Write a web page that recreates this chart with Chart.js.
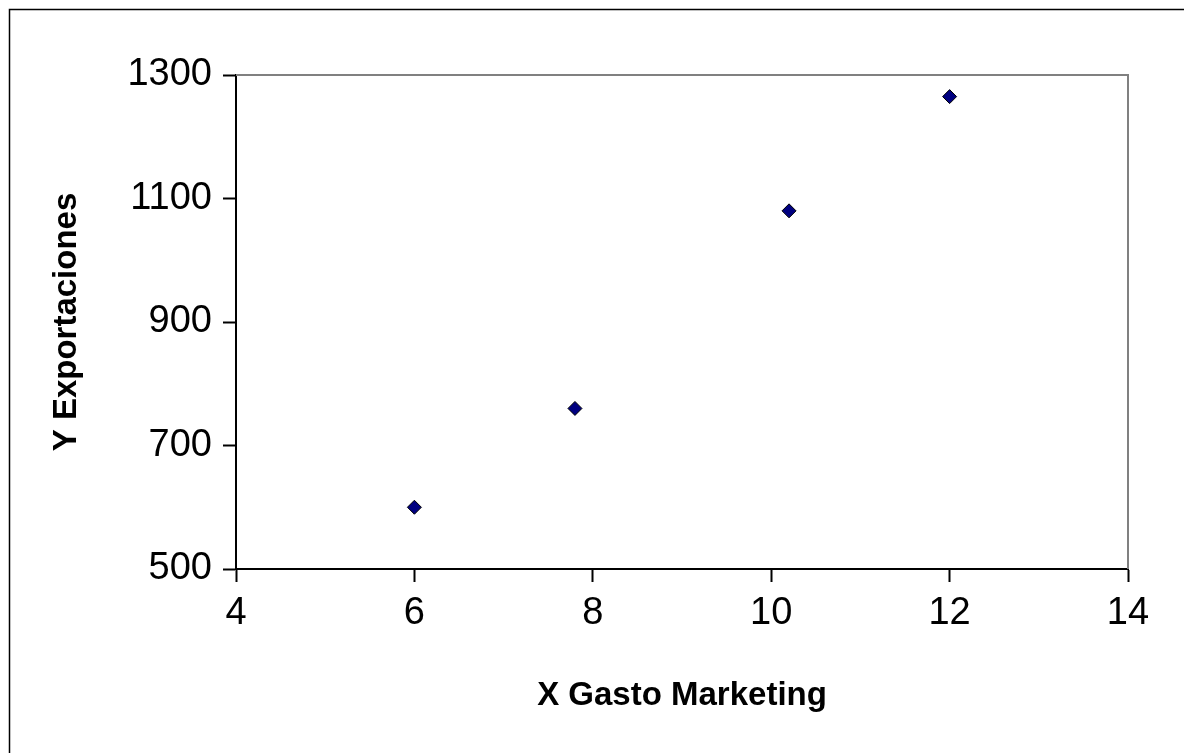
<!DOCTYPE html>
<html>
<head>
<meta charset="utf-8">
<script src="https://cdn.jsdelivr.net/npm/chart.js@4"></script>
<style>
  html, body { margin: 0; padding: 0; background: #fff; }
  #wrap { width: 1184px; height: 753px; position: relative; }
</style>
</head>
<body>
<div id="wrap"><canvas id="scatterChart" width="1184" height="753"></canvas></div>
<script>
// values
const gastoMarketing = [6, 7.8, 10.2, 12];
const exportaciones = [600, 760, 1080, 1265];
const xTicks = [4, 6, 8, 10, 12, 14];
const yTicks = [500, 700, 900, 1100, 1300];

const points = gastoMarketing.map((x, i) => ({ x: x, y: exportaciones[i] }));

// outer frame + grey top/right edge of plot area
const framePlugin = {
    id: 'frame',
    beforeDraw(chart) {
        const ctx = chart.ctx;
        ctx.save();
        ctx.fillStyle = '#fff';
        ctx.fillRect(0, 0, chart.width, chart.height);
        ctx.strokeStyle = '#000';
        ctx.lineWidth = 1.5;
        ctx.strokeRect(9.5, 9.5, chart.width + 20, chart.height + 20);
        ctx.restore();
    },
    afterDatasetsDraw(chart) {
        const { ctx, chartArea: a } = chart;
        ctx.save();
        ctx.strokeStyle = '#808080';
        ctx.lineWidth = 2;
        ctx.beginPath();
        ctx.moveTo(a.left, a.top);
        ctx.lineTo(a.right, a.top);
        ctx.lineTo(a.right, a.bottom);
        ctx.stroke();
        ctx.restore();
    }
};

function drawChart() {
    const ctx = document.getElementById('scatterChart').getContext('2d');
    Chart.defaults.font.family = "'Liberation Sans', Arial, sans-serif";
    Chart.defaults.color = '#000';

    window.myChart = new Chart(ctx, {
        type: 'scatter',
        data: {
            datasets: [{
                label: 'Exportaciones',
                data: points,
                pointStyle: 'rectRot',
                pointRadius: 7,
                pointHoverRadius: 7,
                backgroundColor: '#000080',
                borderColor: '#000',
                borderWidth: 1
            }]
        },
        options: {
            responsive: false,
            animation: false,
            events: [],
            layout: { padding: { top: 75, right: 56, left: 0, bottom: 0 } },
            plugins: {
                legend: { display: false },
                tooltip: { enabled: false }
            },
            scales: {
                x: {
                    type: 'linear',
                    min: 4,
                    max: 14,
                    afterBuildTicks: (scale) => { scale.ticks = xTicks.map(v => ({ value: v })); },
                    afterFit: (scale) => { scale.height = 184; },
                    ticks: { font: { size: 38 }, padding: 9, callback: v => String(v) },
                    grid: { drawOnChartArea: false, drawTicks: true, tickLength: 13, color: '#000', tickWidth: 2 },
                    border: { display: true, color: '#000', width: 2 },
                    title: {
                        display: true,
                        text: 'X Gasto Marketing',
                        font: { size: 33, weight: 'bold' },
                        padding: { top: 0, bottom: 37 }
                    }
                },
                y: {
                    type: 'linear',
                    min: 500,
                    max: 1300,
                    afterBuildTicks: (scale) => { scale.ticks = yTicks.map(v => ({ value: v })); },
                    afterFit: (scale) => { scale.width = 236; },
                    ticks: { font: { size: 38 }, padding: 11, callback: v => String(v) },
                    grid: { drawOnChartArea: false, drawTicks: true, tickLength: 13, color: '#000', tickWidth: 2 },
                    border: { display: true, color: '#000', width: 2 },
                    title: {
                        display: true,
                        text: 'Y Exportaciones',
                        font: { size: 33, weight: 'bold' },
                        padding: { top: 47, bottom: 0 }
                    }
                }
            }
        },
        plugins: [framePlugin]
    });
}

document.addEventListener("DOMContentLoaded", drawChart);
</script>
</body>
</html>
